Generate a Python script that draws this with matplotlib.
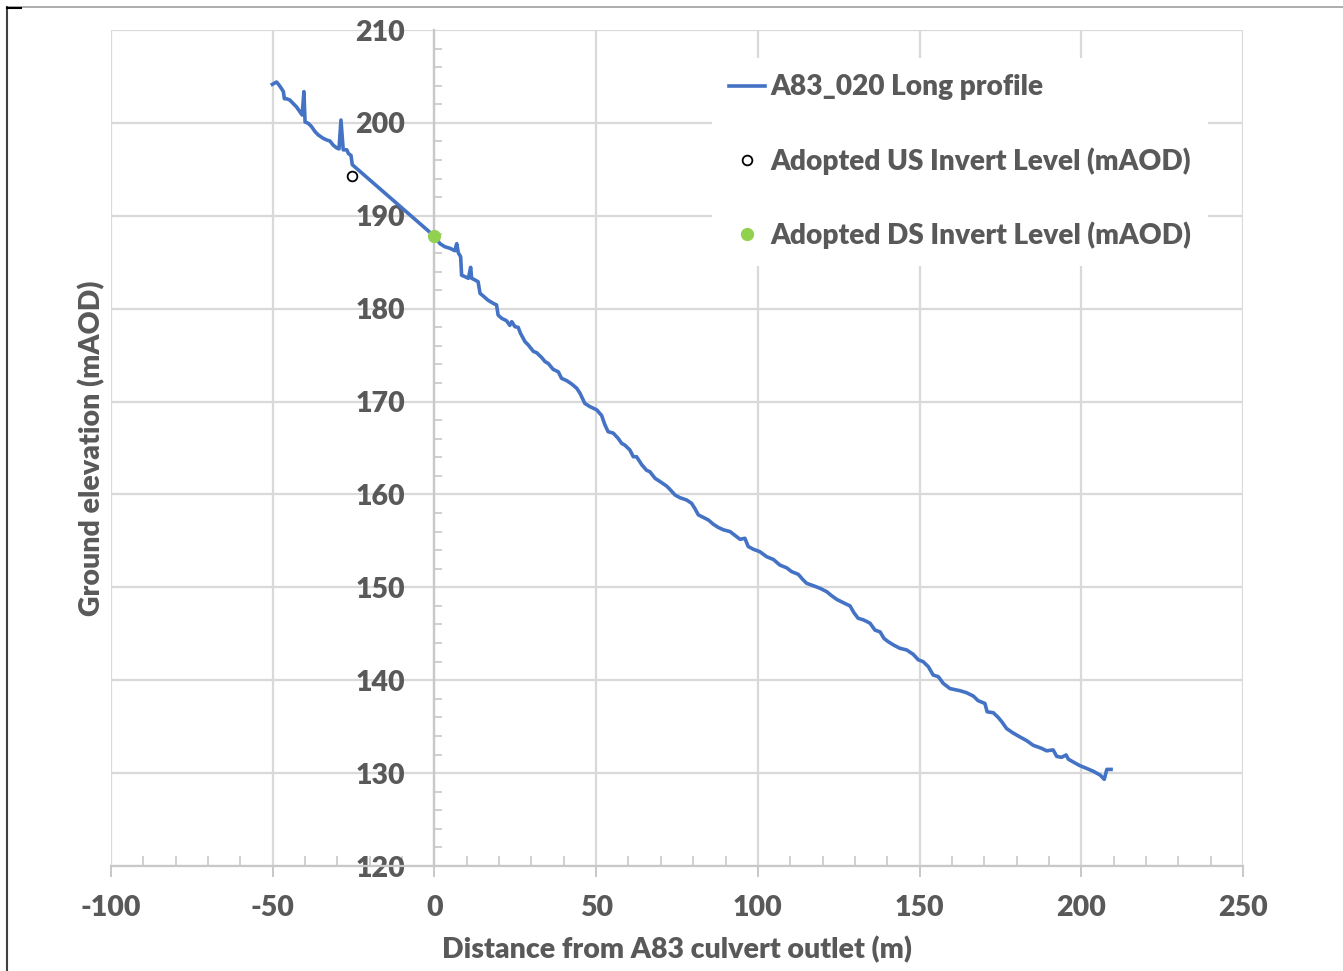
import matplotlib
matplotlib.use('Agg')
import matplotlib.pyplot as plt
from matplotlib.ticker import MultipleLocator
from matplotlib.lines import Line2D

# long profile (distance m, ground level mAOD)
dist = [-50.1, -48.8, -48.1, -47.2, -46.7, -46.4, -45.7, -44.7, -43.7, -42.6,
        -41.6, -40.9, -40.35, -40.0, -39.0, -38.0, -36.9, -35.9, -34.4, -33.3,
        -32.3, -31.3, -30.2, -29.5, -28.9, -28.2, -27.1, -26.6, -25.8, -25.4,
        0.15, 1.7, 3.2, 4.8, 6.3, 6.9, 7.4, 8.1, 8.4, 9.4,
        10.5, 11.2, 11.5, 12.5, 13.5, 14.1, 15.1, 16.6, 18.2, 19.2,
        19.7, 20.8, 22.3, 23.3, 23.9, 24.9, 25.9, 26.6, 28.0, 29.0,
        30.6, 31.6, 33.1, 34.2, 35.2, 36.7, 38.3, 39.3, 40.9, 42.4,
        44.0, 45.0, 46.5, 48.1, 50.2, 51.7, 52.7, 53.7, 55.3, 56.8,
        57.9, 58.9, 60.4, 61.5, 62.5, 64.1, 65.6, 66.6, 68.2, 69.7,
        71.8, 72.8, 74.4, 75.9, 78.0, 79.5, 80.5, 81.6, 83.1, 84.7,
        86.2, 87.7, 89.3, 91.4, 92.9, 94.5, 96.0, 97.0, 98.6, 100.6,
        102.7, 104.8, 106.8, 108.9, 110.4, 112.5, 114.0, 115.1, 117.1, 119.2,
        121.3, 122.8, 124.4, 126.4, 128.5, 129.7, 131.0, 132.6, 133.8, 134.7,
        136.2, 137.8, 139.0, 140.3, 141.9, 143.9, 146.0, 148.0, 149.6, 151.1,
        152.7, 154.2, 155.8, 157.3, 159.4, 162.5, 164.5, 166.6, 168.1, 170.2,
        170.9, 172.8, 174.3, 175.4, 176.9, 179.0, 181.0, 183.1, 185.1, 187.7,
        189.3, 191.3, 192.4, 193.9, 195.3, 196.0, 198.0, 199.6, 201.7, 203.7,
        205.8, 207.1, 207.9, 209.2]
elev = [204.15, 204.4, 204.1, 203.65, 203.36, 202.6, 202.6, 202.46, 202.1, 201.7,
        201.2, 200.85, 203.36, 200.1, 199.95, 199.6, 199.05, 198.7, 198.34, 198.16,
        198.05, 197.6, 197.3, 197.2, 200.3, 197.1, 197.1, 196.7, 196.5, 195.5,
        187.75, 187.0, 186.67, 186.5, 186.24, 187.0, 186.0, 185.6, 183.6, 183.45,
        183.27, 184.45, 183.27, 183.1, 182.9, 181.65, 181.36, 180.9, 180.57, 180.4,
        179.3, 178.96, 178.7, 178.2, 178.6, 178.06, 177.99, 177.35, 176.45, 176.1,
        175.4, 175.26, 174.76, 174.3, 174.1, 173.47, 173.2, 172.5, 172.25, 171.9,
        171.43, 170.9, 169.8, 169.45, 169.1, 168.5, 167.5, 166.76, 166.6, 166.04,
        165.5, 165.3, 164.8, 164.06, 164.06, 163.2, 162.6, 162.45, 161.74, 161.4,
        160.9, 160.55, 159.94, 159.65, 159.4, 159.05, 158.5, 157.8, 157.54, 157.25,
        156.8, 156.46, 156.2, 156.0, 155.6, 155.17, 155.28, 154.4, 154.1, 153.84,
        153.3, 153.0, 152.4, 152.1, 151.7, 151.4, 150.8, 150.43, 150.18, 149.9,
        149.53, 149.1, 148.7, 148.35, 148.0, 147.27, 146.67, 146.5, 146.3, 146.13,
        145.4, 145.2, 144.5, 144.15, 143.8, 143.44, 143.26, 142.8, 142.2, 142.0,
        141.46, 140.56, 140.38, 139.67, 139.1, 138.87, 138.66, 138.3, 137.8, 137.5,
        136.6, 136.5, 136.0, 135.54, 134.8, 134.3, 133.9, 133.5, 133.0, 132.67,
        132.4, 132.5, 131.8, 131.7, 131.95, 131.5, 131.1, 130.8, 130.5, 130.2,
        129.8, 129.33, 130.4, 130.4]

us_x = [-25.6]
us_y = [194.3]
ds_x = [0.0]
ds_y = [187.8]

labels = ['A83_020 Long profile', 'Adopted US Invert Level (mAOD)',
          'Adopted DS Invert Level (mAOD)']

plt.rcParams['font.family'] = ['Lato', 'DejaVu Sans']
plt.rcParams['font.weight'] = 'heavy'
plt.rcParams['axes.labelweight'] = 'heavy'
plt.rcParams['axes.unicode_minus'] = False
txt = '#595959'
gridc = '#D9D9D9'
fs = 20.5

fig = plt.figure(figsize=(13.43, 9.71), dpi=100)
ax = fig.add_axes([111 / 1343, 1 - 866 / 971, 1132 / 1343, 836 / 971])

ax.plot(dist, elev, color='#4472C4', lw=2.6, label=labels[0], zorder=3)
ax.plot(us_x, us_y, 'o', mfc='white', mec='black', ms=7, mew=1.3, ls='none',
        label=labels[1], zorder=4)
ax.plot(ds_x, ds_y, 'o', color='#92D050', ms=8.5, ls='none', label=labels[2], zorder=4)

ax.set_xlim(-100, 250)
ax.set_ylim(120, 210)
ax.xaxis.set_major_locator(MultipleLocator(50))
ax.xaxis.set_minor_locator(MultipleLocator(10))
ax.yaxis.set_major_locator(MultipleLocator(10))
ax.yaxis.set_minor_locator(MultipleLocator(2))
ax.grid(which='major', color=gridc, lw=1.6)
ax.set_axisbelow(True)

ax.spines['top'].set_visible(False)
ax.spines['right'].set_visible(False)
ax.spines['left'].set_position(('data', 0))
ax.spines['left'].set_color('#C8C8C8')
ax.spines['left'].set_linewidth(1.6)
ax.spines['bottom'].set_color('#C8C8C8')
ax.spines['bottom'].set_linewidth(1.6)

ax.tick_params(axis='y', which='major', length=0, pad=21, labelsize=fs, labelcolor=txt)
ax.tick_params(axis='y', which='minor', direction='in', length=6, width=1.2, color='#C8C8C8')
ax.tick_params(axis='x', which='major', direction='out', length=8, width=1.4,
               color='#C8C8C8', pad=13, labelsize=fs, labelcolor=txt)
ax.tick_params(axis='x', which='minor', direction='in', length=7, width=1.2, color='#C8C8C8')

ax.set_xlabel('Distance from A83 culvert outlet (m)', fontsize=fs, color=txt, fontweight='heavy')
ax.xaxis.set_label_coords(0.5, -0.1005)
ax.xaxis.label.set_va('center')
ax.set_ylabel('Ground elevation (mAOD)', fontsize=fs, color=txt, fontweight='heavy')
ax.yaxis.set_label_coords(-0.0168, 0.5)
ax.yaxis.label.set_va('center')

leg = ax.legend(loc='upper right', bbox_to_anchor=(0.969, 0.967),
                prop={'size': 20.2, 'weight': 'heavy'},
                labelcolor=txt, frameon=True, facecolor='white', edgecolor='none',
                framealpha=1, fancybox=False, labelspacing=1.66, handlelength=1.3,
                handletextpad=0.18, borderpad=0.6, borderaxespad=0)
leg.set_zorder(5)

# screenshot frame lines
fig.add_artist(Line2D([7 / 1343, 1], [1 - 7 / 971, 1 - 7 / 971], color='#A0A0A0', lw=1.2))
fig.add_artist(Line2D([7 / 1343, 7 / 1343], [0, 1 - 7 / 971], color='#404040', lw=1.5))
fig.add_artist(Line2D([7 / 1343, 21 / 1343], [1 - 8 / 971, 1 - 8 / 971], color='black', lw=1.5))

fig.savefig('out.png', dpi=100)
